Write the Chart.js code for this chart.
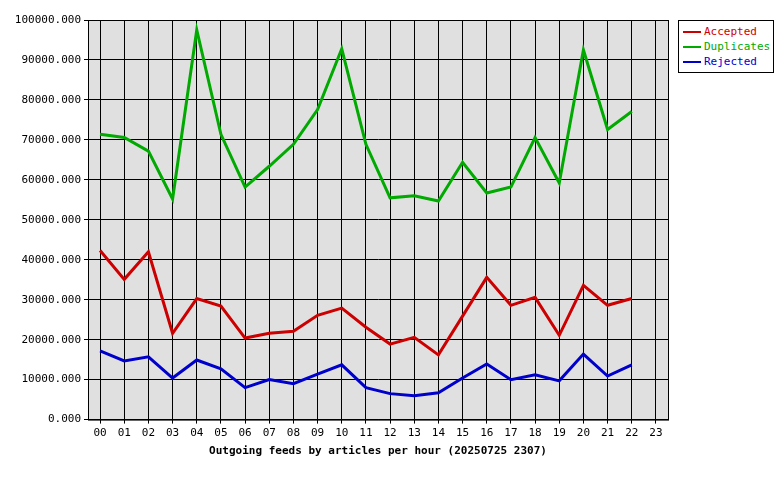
<!DOCTYPE html>
<html>
<head>
<script src="https://cdn.jsdelivr.net/npm/chart.js@4/dist/chart.umd.min.js"></script>
<style>
  body { margin: 0; background: #fff; }
  #wrap { position: relative; width: 780px; height: 480px; }
  #legend { position: absolute; left: 678px; top: 20px; width: 94px; border: 1px solid #000; background: #fff;
    font: 11px "DejaVu Sans Mono", monospace; padding: 3px 0; }
  #legend div { height: 15px; line-height: 15px; white-space: nowrap; }
  #legend span.sw { display: inline-block; width: 18px; height: 2px; vertical-align: middle; margin: 0 3px 0 4px; position: relative; }
</style>
</head>
<body>
<div id="wrap">
  <canvas id="feedChart" width="780" height="480"></canvas>
  <div id="legend"></div>
</div>
<script>
// Hours on x axis
const hours = ['00','01','02','03','04','05','06','07','08','09','10','11',
  '12','13','14','15','16','17','18','19','20','21','22','23'];

const accepted = [42300, 35100, 42000, 21600, 30300, 28400, 20400, 21600, 22100, 26100, 27900, 23100,
  18900, 20600, 16200, 25900, 35600, 28600, 30600, 21100, 33600, 28600, 30300, null];
const duplicates = [71400, 70600, 67200, 55200, 97500, 71400, 58200, 63400, 68900, 77600, 92800, 68900,
  55500, 56000, 54700, 64400, 56700, 58200, 70600, 59200, 92500, 72600, 77100, null];
const rejected = [17200, 14700, 15700, 10400, 14900, 12700, 8000, 10000, 9000, 11400, 13700, 8000,
  6500, 6000, 6700, 10400, 13900, 10000, 11200, 9700, 16400, 10900, 13700, null];

const seriesNames = ['Accepted', 'Duplicates', 'Rejected'];
const seriesColors = ['#cc0000', '#00aa00', '#0000cc'];

// Gray plot background
const plotBg = {
  id: 'plotBg',
  beforeDraw(chart) {
    const a = chart.chartArea, ctx = chart.ctx;
    ctx.save();
    ctx.fillStyle = '#e0e0e0';
    ctx.fillRect(a.left, a.top, a.right - a.left, a.bottom - a.top);
    ctx.restore();
  },
  afterDraw(chart) {
    const a = chart.chartArea, ctx = chart.ctx;
    ctx.save();
    ctx.strokeStyle = '#000';
    ctx.lineWidth = 1;
    ctx.strokeRect(a.left + 0.5, a.top + 0.5, a.right - a.left, a.bottom - a.top);
    ctx.restore();
  }
};

const font = { family: '"DejaVu Sans Mono", monospace', size: 11 };

const ctx = document.getElementById('feedChart').getContext('2d');
new Chart(ctx, {
  type: 'line',
  data: {
    labels: hours,
    datasets: [accepted, duplicates, rejected].map((d, i) => ({
      label: seriesNames[i],
      data: d,
      borderColor: seriesColors[i],
      borderWidth: 3,
      pointRadius: 0,
      tension: 0,
      fill: false
    }))
  },
  plugins: [plotBg],
  options: {
    responsive: false,
    animation: false,
    layout: { padding: { left: 0, right: 112, top: 20, bottom: 18 } },
    plugins: { legend: { display: false }, tooltip: { enabled: false } },
    scales: {
      x: {
        offset: true,
        grid: { color: '#000', drawTicks: true, tickLength: 4, offset: false },
        border: { color: '#000' },
        ticks: { color: '#000', font: font, maxRotation: 0, autoSkip: false },
        title: { display: true, text: 'Outgoing feeds by articles per hour (20250725 2307)',
          color: '#000', font: { family: font.family, size: 11, weight: 'bold' }, padding: { top: 2 } }
      },
      y: {
        min: 0, max: 100000,
        afterFit(scale) { scale.width = 88; },
        grid: { color: '#000', tickLength: 4 },
        border: { color: '#000' },
        ticks: { color: '#000', font: font, stepSize: 10000, callback: v => v.toFixed(3) }
      }
    }
  }
});

// Legend as real text
const legend = document.getElementById('legend');
seriesNames.forEach((n, i) => {
  const row = document.createElement('div');
  row.style.color = seriesColors[i];
  row.innerHTML = '<span class="sw" style="background:' + seriesColors[i] + '"></span>' + n;
  legend.appendChild(row);
});
</script>
</body>
</html>
